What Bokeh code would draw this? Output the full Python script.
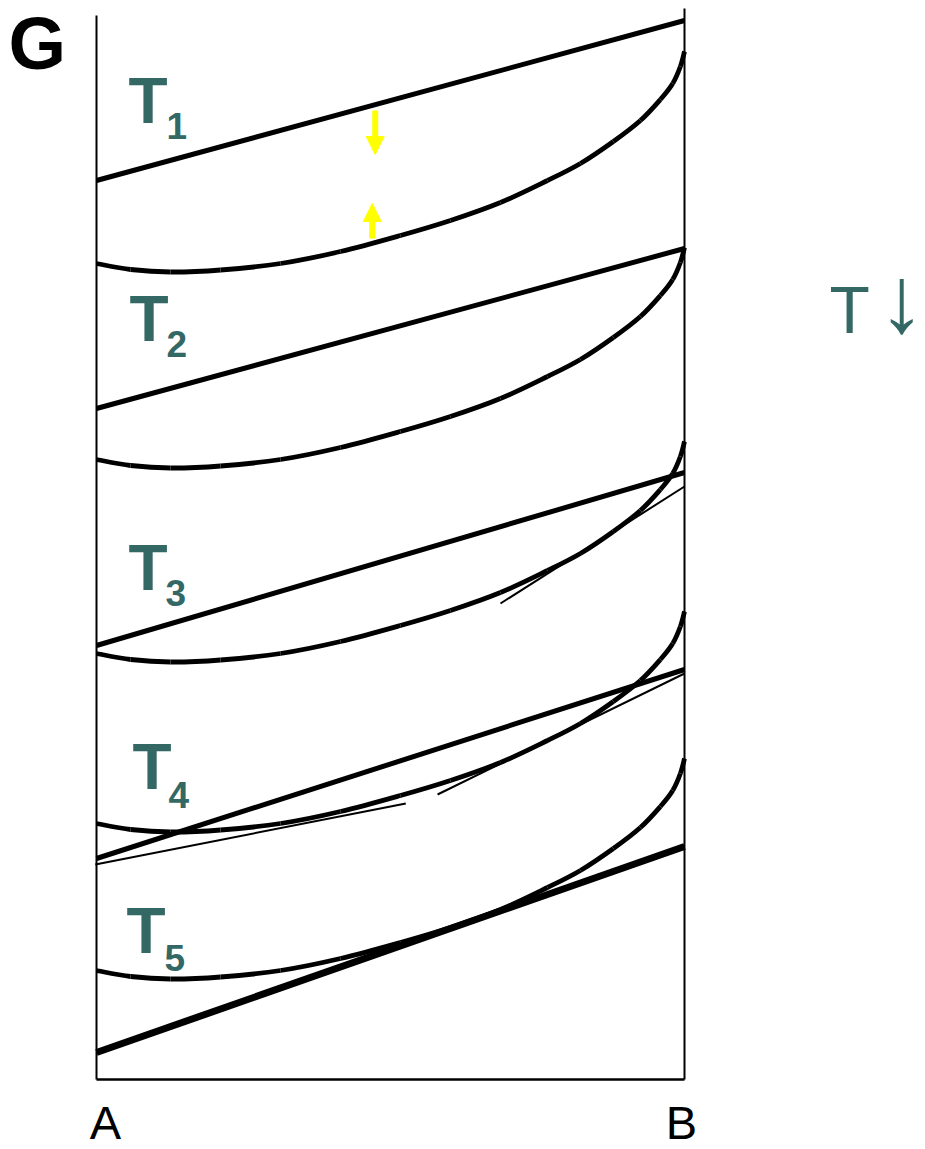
from bokeh.plotting import figure
from bokeh.models import Range1d, Arrow, NormalHead, Label
from bokeh.embed import file_html
from bokeh.resources import INLINE

# ---------------- data ----------------
# composition axis: pure A = 0, pure B = 1 ; G in arbitrary units
temps = ["1", "2", "3", "4", "5"]
# shared shape of the solid-solution G curve (G relative to its value at pure A)
curve_x = [0.0, 0.058, 0.126, 0.211, 0.313, 0.415, 0.517, 0.602, 0.687, 0.767,
           0.823, 0.879, 0.925, 0.959, 0.980, 0.993, 1.0]
curve_dg = [0.0, -0.06, -0.085, -0.065, 0.0, 0.12, 0.28, 0.43, 0.61, 0.83,
            1.00, 1.22, 1.43, 1.64, 1.80, 1.97, 2.12]
curve_g_at_A = [8.16, 6.20, 4.26, 2.56, 1.09]
# straight G lines: value at pure A and at pure B
line_g_at_A = [8.99, 6.71, 4.34, 2.21, 0.27]
line_g_at_B = [10.59, 8.31, 6.07, 4.10, 2.33]
# thin tangent segments
tan_x0 = [0.687, -0.002, 0.580]
tan_x1 = [1.0, 0.526, 1.0]
tan_g0 = [4.76, 2.15, 2.85]
tan_g1 = [5.93, 2.76, 4.06]
# yellow arrows (T1 gap)
arrow_x = [0.474, 0.469]
arrow_g_from = [9.69, 8.41]
arrow_g_to = [9.25, 8.76]
axis_g_top = [10.64, 10.71]
x_labels = ["A", "B"]

# ---------------- layout helpers (reference pixel -> data) ----------------
W, H = 925, 1149

def X(px):
    return (px - 96) / 588.0

def Y(py):
    return (1079 - py) / 100.0

def base(py, size):
    # Label anchor correction: place the alphabetic baseline at reference pixel py
    return Y(py - 0.36 * size)

TEAL = "#346865"
FONT = "Liberation Sans"

p = figure(width=W, height=H,
           x_range=Range1d(X(0), X(W)), y_range=Range1d(Y(H), Y(0)),
           output_backend="svg", toolbar_location=None, min_border=0,
           x_axis_type=None, y_axis_type=None, background_fill_color="white")
p.grid.visible = False
p.outline_line_color = None

# frame
p.line([0, 0], [0, axis_g_top[0]], line_color="black", line_width=2)
p.line([1, 1], [0, axis_g_top[1]], line_color="black", line_width=2)
p.line([0, 1], [0, 0], line_color="black", line_width=2.5)

# smooth curves through the read points (Catmull-Rom -> cubic Bezier)
n = len(curve_x)
for g0 in curve_g_at_A:
    ys = [g0 + d for d in curve_dg]
    bx0, by0, bx1, by1, c0x, c0y, c1x, c1y = [], [], [], [], [], [], [], []
    for i in range(n - 1):
        a, b = max(i - 1, 0), min(i + 2, n - 1)
        bx0.append(curve_x[i]); by0.append(ys[i])
        bx1.append(curve_x[i + 1]); by1.append(ys[i + 1])
        c0x.append(curve_x[i] + (curve_x[i + 1] - curve_x[a]) / 6.0)
        c0y.append(ys[i] + (ys[i + 1] - ys[a]) / 6.0)
        c1x.append(curve_x[i + 1] - (curve_x[b] - curve_x[i]) / 6.0)
        c1y.append(ys[i + 1] - (ys[b] - ys[i]) / 6.0)
    p.bezier(x0=bx0, y0=by0, x1=bx1, y1=by1, cx0=c0x, cy0=c0y, cx1=c1x, cy1=c1y,
             line_color="black", line_width=4.8)

# straight lines
for i, (ga, gb) in enumerate(zip(line_g_at_A, line_g_at_B)):
    p.line([0, 1], [ga, gb], line_color="black",
           line_width=7 if i == 4 else 5)

# tangents
for x0, x1, g0, g1 in zip(tan_x0, tan_x1, tan_g0, tan_g1):
    p.line([x0, x1], [g0, g1], line_color="black", line_width=2)

# yellow arrows
for ax, gf, gt in zip(arrow_x, arrow_g_from, arrow_g_to):
    p.add_layout(Arrow(end=NormalHead(size=18, fill_color="#FFFF00", line_color="#FFFF00", line_width=1),
                       x_start=ax, y_start=gf, x_end=ax, y_end=gt,
                       line_color="#FFFF00", line_width=6))

# texts
p.add_layout(Label(x=X(8), y=base(70, 74), text="G", text_font=FONT, text_font_style="bold",
                   text_font_size="74px", text_color="black", text_baseline="alphabetic"))

t_pos = [(128, 124), (129, 342), (128, 591), (132, 790), (126, 954)]
s_pos = [(166, 139), (166, 357), (165, 606), (168, 808), (164, 971)]
for t, (tx, ty), (sx, sy) in zip(temps, t_pos, s_pos):
    p.add_layout(Label(x=X(tx), y=base(ty, 64), text="T", text_font=FONT, text_font_style="bold",
                       text_font_size="64px", text_color=TEAL, text_baseline="alphabetic"))
    p.add_layout(Label(x=X(sx), y=base(sy, 37), text=t, text_font=FONT, text_font_style="bold",
                       text_font_size="37px", text_color=TEAL, text_baseline="alphabetic"))

p.add_layout(Label(x=X(829), y=base(333, 66), text="T", text_font=FONT,
                   text_font_size="66px", text_color=TEAL, text_baseline="alphabetic"))
p.add_layout(Label(x=X(901), y=base(333, 94), text="\u2193", text_font=FONT, text_align="center",
                   text_font_size="94px", text_color=TEAL, text_baseline="alphabetic"))

for lab, xv in zip(x_labels, [0, 1]):
    p.add_layout(Label(x=xv, y=base(1139, 47), text=lab, text_font=FONT, text_align="center",
                       text_font_size="47px", text_color="black", text_baseline="alphabetic",
                       x_offset=9 if lab == "A" else -3))

open("out.html", "w").write(file_html(p, INLINE))
